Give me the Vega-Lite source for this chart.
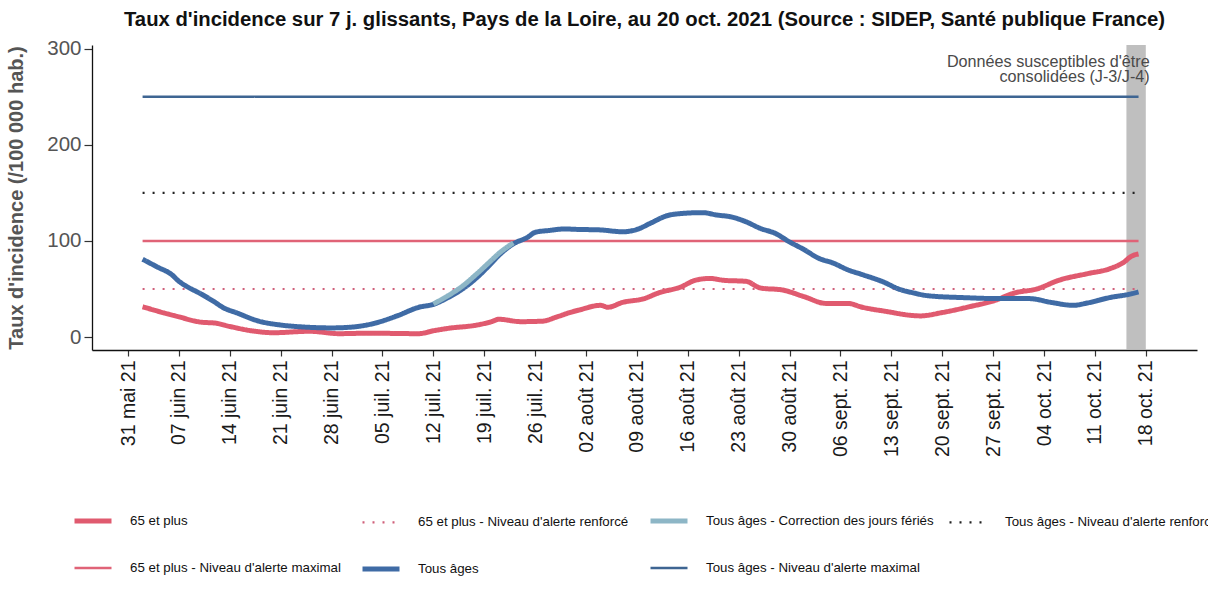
{
  "$schema": "https://vega.github.io/schema/vega-lite/v6.json",
  "width": 1105,
  "height": 305,
  "autosize": {"type": "none"},
  "padding": {"left": 92, "top": 45, "right": 11, "bottom": 248},
  "background": "white",
  "title": {
    "text": "Taux d'incidence sur 7 j. glissants, Pays de la Loire, au 20 oct. 2021 (Source : SIDEP, Santé publique France)",
    "font": "Liberation Sans",
    "fontSize": 20.3,
    "fontWeight": "bold",
    "color": "#111111",
    "anchor": "middle",
    "frame": "group",
    "offset": 9
  },
  "config": {
    "view": {"stroke": null},
    "locale": {
      "number": {"decimal": ",", "thousands": " ", "grouping": [3], "currency": ["", " €"]},
      "time": {
        "dateTime": "%A %e %B %Y à %X",
        "date": "%d/%m/%Y",
        "time": "%H:%M:%S",
        "periods": ["AM", "PM"],
        "days": ["dimanche", "lundi", "mardi", "mercredi", "jeudi", "vendredi", "samedi"],
        "shortDays": ["dim.", "lun.", "mar.", "mer.", "jeu.", "ven.", "sam."],
        "months": ["janvier", "février", "mars", "avril", "mai", "juin", "juillet", "août", "septembre", "octobre", "novembre", "décembre"],
        "shortMonths": ["janv.", "févr.", "mars", "avr.", "mai", "juin", "juil.", "août", "sept.", "oct.", "nov.", "déc."]
      }
    },
    "axis": {"grid": false, "domainColor": "#111111", "domainWidth": 1.3, "tickColor": "#333333", "tickWidth": 1.2, "tickSize": 6},
    "legend": {
      "orient": "none",
      "legendX": -20,
      "legendY": 455,
      "columns": 4,
      "direction": "horizontal",
      "padding": 0,
      "symbolType": "stroke",
      "symbolSize": 1369,
      "labelFont": "Liberation Sans",
      "labelFontSize": 13.3,
      "labelColor": "#111111",
      "labelOffset": 16,
      "labelLimit": 500,
      "columnPadding": 11,
      "rowPadding": 17
    }
  },
  "datasets": {
    "series": [
      {"d": "2021-06-02", "v": 250, "s": "Tous âges - Niveau d'alerte maximal"},
      {"d": "2021-10-17", "v": 250, "s": "Tous âges - Niveau d'alerte maximal"},
      {"d": "2021-06-02", "v": 150, "s": "Tous âges - Niveau d'alerte renforcé"},
      {"d": "2021-10-17", "v": 150, "s": "Tous âges - Niveau d'alerte renforcé"},
      {"d": "2021-06-02", "v": 100, "s": "65 et plus - Niveau d'alerte maximal"},
      {"d": "2021-10-17", "v": 100, "s": "65 et plus - Niveau d'alerte maximal"},
      {"d": "2021-06-02", "v": 50, "s": "65 et plus - Niveau d'alerte renforcé"},
      {"d": "2021-10-17", "v": 50, "s": "65 et plus - Niveau d'alerte renforcé"},

      {"d": "2021-06-02", "v": 31.5, "s": "65 et plus"},
      {"d": "2021-06-05", "v": 25, "s": "65 et plus"},
      {"d": "2021-06-07", "v": 21, "s": "65 et plus"},
      {"d": "2021-06-10", "v": 15.5, "s": "65 et plus"},
      {"d": "2021-06-12", "v": 14.5, "s": "65 et plus"},
      {"d": "2021-06-14", "v": 11, "s": "65 et plus"},
      {"d": "2021-06-17", "v": 6.5, "s": "65 et plus"},
      {"d": "2021-06-20", "v": 4.5, "s": "65 et plus"},
      {"d": "2021-06-25", "v": 6, "s": "65 et plus"},
      {"d": "2021-06-29", "v": 3.5, "s": "65 et plus"},
      {"d": "2021-07-03", "v": 4, "s": "65 et plus"},
      {"d": "2021-07-10", "v": 3.5, "s": "65 et plus"},
      {"d": "2021-07-12", "v": 6.5, "s": "65 et plus"},
      {"d": "2021-07-14", "v": 9, "s": "65 et plus"},
      {"d": "2021-07-18", "v": 12.5, "s": "65 et plus"},
      {"d": "2021-07-20", "v": 16, "s": "65 et plus"},
      {"d": "2021-07-21", "v": 18.5, "s": "65 et plus"},
      {"d": "2021-07-24", "v": 16, "s": "65 et plus"},
      {"d": "2021-07-27", "v": 16.5, "s": "65 et plus"},
      {"d": "2021-07-29", "v": 21, "s": "65 et plus"},
      {"d": "2021-07-31", "v": 26, "s": "65 et plus"},
      {"d": "2021-08-01", "v": 28, "s": "65 et plus"},
      {"d": "2021-08-04", "v": 33, "s": "65 et plus"},
      {"d": "2021-08-05", "v": 31, "s": "65 et plus"},
      {"d": "2021-08-07", "v": 36, "s": "65 et plus"},
      {"d": "2021-08-10", "v": 40, "s": "65 et plus"},
      {"d": "2021-08-12", "v": 46, "s": "65 et plus"},
      {"d": "2021-08-15", "v": 52, "s": "65 et plus"},
      {"d": "2021-08-17", "v": 59, "s": "65 et plus"},
      {"d": "2021-08-19", "v": 61, "s": "65 et plus"},
      {"d": "2021-08-21", "v": 59, "s": "65 et plus"},
      {"d": "2021-08-24", "v": 58, "s": "65 et plus"},
      {"d": "2021-08-26", "v": 51, "s": "65 et plus"},
      {"d": "2021-08-29", "v": 49, "s": "65 et plus"},
      {"d": "2021-09-01", "v": 42, "s": "65 et plus"},
      {"d": "2021-09-04", "v": 35, "s": "65 et plus"},
      {"d": "2021-09-07", "v": 35, "s": "65 et plus"},
      {"d": "2021-09-09", "v": 31, "s": "65 et plus"},
      {"d": "2021-09-12", "v": 27, "s": "65 et plus"},
      {"d": "2021-09-17", "v": 22, "s": "65 et plus"},
      {"d": "2021-09-20", "v": 25.5, "s": "65 et plus"},
      {"d": "2021-09-24", "v": 32, "s": "65 et plus"},
      {"d": "2021-09-27", "v": 37.5, "s": "65 et plus"},
      {"d": "2021-09-30", "v": 46, "s": "65 et plus"},
      {"d": "2021-10-03", "v": 50, "s": "65 et plus"},
      {"d": "2021-10-06", "v": 59, "s": "65 et plus"},
      {"d": "2021-10-10", "v": 66, "s": "65 et plus"},
      {"d": "2021-10-13", "v": 71, "s": "65 et plus"},
      {"d": "2021-10-15", "v": 78, "s": "65 et plus"},
      {"d": "2021-10-16", "v": 84, "s": "65 et plus"},
      {"d": "2021-10-17", "v": 86.5, "s": "65 et plus"},

      {"d": "2021-06-02", "v": 81, "s": "Tous âges"},
      {"d": "2021-06-04", "v": 73, "s": "Tous âges"},
      {"d": "2021-06-06", "v": 65, "s": "Tous âges"},
      {"d": "2021-06-07", "v": 58, "s": "Tous âges"},
      {"d": "2021-06-08", "v": 53, "s": "Tous âges"},
      {"d": "2021-06-10", "v": 45, "s": "Tous âges"},
      {"d": "2021-06-12", "v": 36, "s": "Tous âges"},
      {"d": "2021-06-13", "v": 31, "s": "Tous âges"},
      {"d": "2021-06-15", "v": 25, "s": "Tous âges"},
      {"d": "2021-06-18", "v": 16.5, "s": "Tous âges"},
      {"d": "2021-06-21", "v": 12.5, "s": "Tous âges"},
      {"d": "2021-06-24", "v": 10.5, "s": "Tous âges"},
      {"d": "2021-06-28", "v": 9.5, "s": "Tous âges"},
      {"d": "2021-07-01", "v": 10.5, "s": "Tous âges"},
      {"d": "2021-07-04", "v": 14.5, "s": "Tous âges"},
      {"d": "2021-07-07", "v": 22, "s": "Tous âges"},
      {"d": "2021-07-10", "v": 31, "s": "Tous âges"},
      {"d": "2021-07-12", "v": 34, "s": "Tous âges"},
      {"d": "2021-07-14", "v": 41, "s": "Tous âges"},
      {"d": "2021-07-16", "v": 50, "s": "Tous âges"},
      {"d": "2021-07-18", "v": 62, "s": "Tous âges"},
      {"d": "2021-07-20", "v": 77, "s": "Tous âges"},
      {"d": "2021-07-21", "v": 85, "s": "Tous âges"},
      {"d": "2021-07-23", "v": 97, "s": "Tous âges"},
      {"d": "2021-07-25", "v": 104, "s": "Tous âges"},
      {"d": "2021-07-26", "v": 109, "s": "Tous âges"},
      {"d": "2021-07-28", "v": 111, "s": "Tous âges"},
      {"d": "2021-07-30", "v": 112.5, "s": "Tous âges"},
      {"d": "2021-08-01", "v": 112, "s": "Tous âges"},
      {"d": "2021-08-04", "v": 111.5, "s": "Tous âges"},
      {"d": "2021-08-06", "v": 110, "s": "Tous âges"},
      {"d": "2021-08-07", "v": 109.5, "s": "Tous âges"},
      {"d": "2021-08-09", "v": 112, "s": "Tous âges"},
      {"d": "2021-08-11", "v": 119, "s": "Tous âges"},
      {"d": "2021-08-13", "v": 126, "s": "Tous âges"},
      {"d": "2021-08-15", "v": 128.5, "s": "Tous âges"},
      {"d": "2021-08-18", "v": 129.5, "s": "Tous âges"},
      {"d": "2021-08-20", "v": 127, "s": "Tous âges"},
      {"d": "2021-08-22", "v": 125, "s": "Tous âges"},
      {"d": "2021-08-24", "v": 120, "s": "Tous âges"},
      {"d": "2021-08-26", "v": 113, "s": "Tous âges"},
      {"d": "2021-08-28", "v": 108, "s": "Tous âges"},
      {"d": "2021-08-30", "v": 99, "s": "Tous âges"},
      {"d": "2021-09-01", "v": 91, "s": "Tous âges"},
      {"d": "2021-09-03", "v": 82, "s": "Tous âges"},
      {"d": "2021-09-05", "v": 77, "s": "Tous âges"},
      {"d": "2021-09-07", "v": 70, "s": "Tous âges"},
      {"d": "2021-09-09", "v": 65, "s": "Tous âges"},
      {"d": "2021-09-12", "v": 57, "s": "Tous âges"},
      {"d": "2021-09-14", "v": 50, "s": "Tous âges"},
      {"d": "2021-09-16", "v": 46, "s": "Tous âges"},
      {"d": "2021-09-18", "v": 43, "s": "Tous âges"},
      {"d": "2021-09-23", "v": 41, "s": "Tous âges"},
      {"d": "2021-09-28", "v": 40, "s": "Tous âges"},
      {"d": "2021-10-02", "v": 40, "s": "Tous âges"},
      {"d": "2021-10-05", "v": 36, "s": "Tous âges"},
      {"d": "2021-10-08", "v": 33, "s": "Tous âges"},
      {"d": "2021-10-10", "v": 35.5, "s": "Tous âges"},
      {"d": "2021-10-13", "v": 41, "s": "Tous âges"},
      {"d": "2021-10-16", "v": 45, "s": "Tous âges"},
      {"d": "2021-10-17", "v": 47, "s": "Tous âges"},

      {"d": "2021-07-12", "v": 34.5, "s": "Tous âges - Correction des jours fériés"},
      {"d": "2021-07-14", "v": 43, "s": "Tous âges - Correction des jours fériés"},
      {"d": "2021-07-16", "v": 53, "s": "Tous âges - Correction des jours fériés"},
      {"d": "2021-07-18", "v": 66, "s": "Tous âges - Correction des jours fériés"},
      {"d": "2021-07-20", "v": 80, "s": "Tous âges - Correction des jours fériés"},
      {"d": "2021-07-21", "v": 87, "s": "Tous âges - Correction des jours fériés"},
      {"d": "2021-07-23", "v": 98, "s": "Tous âges - Correction des jours fériés"}
    ],
    "band": [
      {"d": "2021-10-15T08:00:00Z", "d2": "2021-10-18T00:00:00Z"}
    ],
    "note": [
      {"d": "2021-10-18T13:00:00Z", "v": 286, "label": "Données susceptibles d'être\nconsolidées (J-3/J-4)"}
    ]
  },
  "encoding": {
    "x": {
      "field": "d",
      "type": "temporal",
      "title": null,
      "scale": {
        "type": "utc",
        "domain": [
          {"year": 2021, "month": 5, "date": 26, "hours": 1, "utc": true},
          {"year": 2021, "month": 10, "date": 25, "hours": 1, "utc": true}
        ]
      },
      "axis": {
        "format": "%d %b %y",
        "labelAngle": -90,
        "labelFont": "Liberation Sans",
        "labelFontSize": 19.5,
        "labelColor": "#1a1a1a",
        "labelPadding": 4,
        "labelOverlap": false,
        "labelFlush": false,
        "tickSize": 6,
        "values": [
          {"year": 2021, "month": 5, "date": 31, "utc": true},
          {"year": 2021, "month": 6, "date": 7, "utc": true},
          {"year": 2021, "month": 6, "date": 14, "utc": true},
          {"year": 2021, "month": 6, "date": 21, "utc": true},
          {"year": 2021, "month": 6, "date": 28, "utc": true},
          {"year": 2021, "month": 7, "date": 5, "utc": true},
          {"year": 2021, "month": 7, "date": 12, "utc": true},
          {"year": 2021, "month": 7, "date": 19, "utc": true},
          {"year": 2021, "month": 7, "date": 26, "utc": true},
          {"year": 2021, "month": 8, "date": 2, "utc": true},
          {"year": 2021, "month": 8, "date": 9, "utc": true},
          {"year": 2021, "month": 8, "date": 16, "utc": true},
          {"year": 2021, "month": 8, "date": 23, "utc": true},
          {"year": 2021, "month": 8, "date": 30, "utc": true},
          {"year": 2021, "month": 9, "date": 6, "utc": true},
          {"year": 2021, "month": 9, "date": 13, "utc": true},
          {"year": 2021, "month": 9, "date": 20, "utc": true},
          {"year": 2021, "month": 9, "date": 27, "utc": true},
          {"year": 2021, "month": 10, "date": 4, "utc": true},
          {"year": 2021, "month": 10, "date": 11, "utc": true},
          {"year": 2021, "month": 10, "date": 18, "utc": true}
        ]
      }
    }
  },
  "layer": [
    {
      "data": {"name": "band"},
      "mark": {"type": "rect", "color": "#b8b8b8", "opacity": 0.9},
      "encoding": {"x2": {"field": "d2"}}
    },
    {
      "data": {"name": "series"},
      "transform": [{"filter": "datum.s !== 'Tous âges' && datum.s !== 'Tous âges - Correction des jours fériés'"}],
      "mark": {"type": "line", "strokeCap": "butt", "interpolate": "monotone"},
      "encoding": {
        "y": {"field": "v", "type": "quantitative", "scale": {"domain": [-13.5, 304], "nice": false, "zero": false},
          "axis": {"values": [0, 100, 200, 300], "title": "Taux d'incidence (/100 000 hab.)", "titleFont": "Liberation Sans", "titleFontSize": 20, "titleFontWeight": "bold", "titleColor": "#555555", "titleX": -76, "titleY": 152.5, "titleAlign": "center", "titleBaseline": "middle", "titleAngle": -90, "labelFont": "Liberation Sans", "labelFontSize": 20.5, "labelColor": "#555555", "labelPadding": 3, "tickSize": 8, "labelFlush": false}},
        "color": {"field": "s", "type": "nominal", "title": null,
          "scale": {"domain": ["65 et plus", "65 et plus - Niveau d'alerte renforcé", "Tous âges - Correction des jours fériés", "Tous âges - Niveau d'alerte renforcé", "65 et plus - Niveau d'alerte maximal", "Tous âges", "Tous âges - Niveau d'alerte maximal"],
            "range": ["#e05a6f", "#d0607a", "#8db6c6", "#222222", "#e06377", "#3f6ba5", "#3e6592"]}},
        "strokeDash": {"field": "s", "type": "nominal", "title": null,
          "scale": {"type": "ordinal", "domain": ["65 et plus", "65 et plus - Niveau d'alerte renforcé", "Tous âges - Correction des jours fériés", "Tous âges - Niveau d'alerte renforcé", "65 et plus - Niveau d'alerte maximal", "Tous âges", "Tous âges - Niveau d'alerte maximal"],
            "range": [[1, 0], [2, 8], [1, 0], [2, 8], [1, 0], [1, 0], [1, 0]]}},
        "strokeWidth": {"field": "s", "type": "nominal", "title": null,
          "scale": {"type": "ordinal", "domain": ["65 et plus", "65 et plus - Niveau d'alerte renforcé", "Tous âges - Correction des jours fériés", "Tous âges - Niveau d'alerte renforcé", "65 et plus - Niveau d'alerte maximal", "Tous âges", "Tous âges - Niveau d'alerte maximal"],
            "range": [5, 2.2, 5, 2.2, 2.5, 5, 2.5]}}
      }
    },
    {
      "data": {"name": "series"},
      "transform": [{"filter": "datum.s === 'Tous âges'"}],
      "mark": {"type": "line", "strokeCap": "butt", "interpolate": "monotone"},
      "encoding": {
        "y": {"field": "v", "type": "quantitative", "scale": {"domain": [-13.5, 304], "nice": false, "zero": false}},
        "color": {"field": "s", "type": "nominal", "title": null,
          "scale": {"domain": ["65 et plus", "65 et plus - Niveau d'alerte renforcé", "Tous âges - Correction des jours fériés", "Tous âges - Niveau d'alerte renforcé", "65 et plus - Niveau d'alerte maximal", "Tous âges", "Tous âges - Niveau d'alerte maximal"],
            "range": ["#e05a6f", "#d0607a", "#8db6c6", "#222222", "#e06377", "#3f6ba5", "#3e6592"]}},
        "strokeDash": {"field": "s", "type": "nominal", "title": null,
          "scale": {"type": "ordinal", "domain": ["65 et plus", "65 et plus - Niveau d'alerte renforcé", "Tous âges - Correction des jours fériés", "Tous âges - Niveau d'alerte renforcé", "65 et plus - Niveau d'alerte maximal", "Tous âges", "Tous âges - Niveau d'alerte maximal"],
            "range": [[1, 0], [2, 8], [1, 0], [2, 8], [1, 0], [1, 0], [1, 0]]}},
        "strokeWidth": {"field": "s", "type": "nominal", "title": null,
          "scale": {"type": "ordinal", "domain": ["65 et plus", "65 et plus - Niveau d'alerte renforcé", "Tous âges - Correction des jours fériés", "Tous âges - Niveau d'alerte renforcé", "65 et plus - Niveau d'alerte maximal", "Tous âges", "Tous âges - Niveau d'alerte maximal"],
            "range": [5, 2.2, 5, 2.2, 2.5, 5, 2.5]}}
      }
    },
    {
      "data": {"name": "series"},
      "transform": [{"filter": "datum.s === 'Tous âges - Correction des jours fériés'"}],
      "mark": {"type": "line", "strokeCap": "butt", "interpolate": "monotone"},
      "encoding": {
        "y": {"field": "v", "type": "quantitative", "scale": {"domain": [-13.5, 304], "nice": false, "zero": false}},
        "color": {"field": "s", "type": "nominal", "title": null,
          "scale": {"domain": ["65 et plus", "65 et plus - Niveau d'alerte renforcé", "Tous âges - Correction des jours fériés", "Tous âges - Niveau d'alerte renforcé", "65 et plus - Niveau d'alerte maximal", "Tous âges", "Tous âges - Niveau d'alerte maximal"],
            "range": ["#e05a6f", "#d0607a", "#8db6c6", "#222222", "#e06377", "#3f6ba5", "#3e6592"]}},
        "strokeDash": {"field": "s", "type": "nominal", "title": null,
          "scale": {"type": "ordinal", "domain": ["65 et plus", "65 et plus - Niveau d'alerte renforcé", "Tous âges - Correction des jours fériés", "Tous âges - Niveau d'alerte renforcé", "65 et plus - Niveau d'alerte maximal", "Tous âges", "Tous âges - Niveau d'alerte maximal"],
            "range": [[1, 0], [2, 8], [1, 0], [2, 8], [1, 0], [1, 0], [1, 0]]}},
        "strokeWidth": {"field": "s", "type": "nominal", "title": null,
          "scale": {"type": "ordinal", "domain": ["65 et plus", "65 et plus - Niveau d'alerte renforcé", "Tous âges - Correction des jours fériés", "Tous âges - Niveau d'alerte renforcé", "65 et plus - Niveau d'alerte maximal", "Tous âges", "Tous âges - Niveau d'alerte maximal"],
            "range": [5, 2.2, 5, 2.2, 2.5, 5, 2.5]}}
      }
    },
    {
      "data": {"name": "note"},
      "mark": {"type": "text", "align": "right", "baseline": "middle", "font": "Liberation Sans", "fontSize": 16.2, "lineHeight": 15, "lineBreak": "\n", "color": "#4a4a4a"},
      "encoding": {
        "y": {"field": "v", "type": "quantitative", "scale": {"domain": [-13.5, 304], "nice": false, "zero": false}},
        "text": {"field": "label"}
      }
    }
  ]
}
